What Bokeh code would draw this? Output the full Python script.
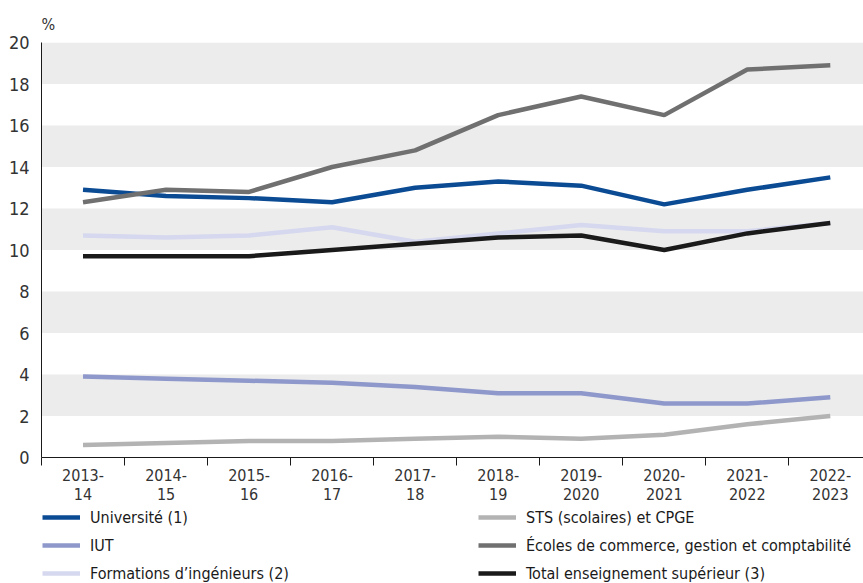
from bokeh.plotting import figure
from bokeh.layouts import column
from bokeh.models import FixedTicker, Legend, LegendItem, ColumnDataSource
from bokeh.embed import file_html
from bokeh.resources import INLINE

years = ["2013-\n14", "2014-\n15", "2015-\n16", "2016-\n17", "2017-\n18",
         "2018-\n19", "2019-\n2020", "2020-\n2021", "2021-\n2022", "2022-\n2023"]

universite = [12.9, 12.6, 12.5, 12.3, 13.0, 13.3, 13.1, 12.2, 12.9, 13.5]
iut = [3.9, 3.8, 3.7, 3.6, 3.4, 3.1, 3.1, 2.6, 2.6, 2.9]
ingenieurs = [10.7, 10.6, 10.7, 11.1, 10.4, 10.8, 11.2, 10.9, 10.9, 11.3]
sts = [0.6, 0.7, 0.8, 0.8, 0.9, 1.0, 0.9, 1.1, 1.6, 2.0]
ecoles = [12.3, 12.9, 12.8, 14.0, 14.8, 16.5, 17.4, 16.5, 18.7, 18.9]
total = [9.7, 9.7, 9.7, 10.0, 10.3, 10.6, 10.7, 10.0, 10.8, 11.3]

y_ticks = [0, 2, 4, 6, 8, 10, 12, 14, 16, 18, 20]

FONT = "DejaVu Sans Condensed"

xs = [i + 0.5 for i in range(len(years))]

p = figure(width=863, height=506, output_backend="svg", toolbar_location=None,
           x_range=(0, 9.9), y_range=(0, 20),
           min_border_left=41, min_border_right=0, min_border_top=42,
           min_border_bottom=49)
p.outline_line_color = None
p.background_fill_color = "white"

series = [
    ("Université (1)", universite, "#0b4b94"),
    ("IUT", iut, "#8e98cb"),
    ("Formations d\u2019ingénieurs (2)", ingenieurs, "#d5d8ee"),
    ("STS (scolaires) et CPGE", sts, "#b3b3b3"),
    ("Écoles de commerce, gestion et comptabilité", ecoles, "#707070"),
    ("Total enseignement supérieur (3)", total, "#1a1a1a"),
]

order = [3, 1, 2, 0, 4, 5]
for idx in order:
    name, vals, col = series[idx]
    src = ColumnDataSource(dict(x=xs, y=vals))
    p.line("x", "y", source=src, line_color=col, line_width=4.5)

# axes
p.xaxis.ticker = FixedTicker(ticks=xs, minor_ticks=list(range(len(years))))
p.xaxis.major_label_overrides = {x: lab for x, lab in zip(xs, years)}
p.xaxis.major_tick_out = 0
p.xaxis.major_tick_in = 0
p.xaxis.minor_tick_out = 8
p.xaxis.minor_tick_in = 0
p.xaxis.minor_tick_line_color = "#1a1a1a"
p.xaxis.axis_line_color = "#1a1a1a"
p.xaxis.major_label_text_font = FONT
p.xaxis.major_label_text_font_size = "16px"
p.xaxis.major_label_text_line_height = 1.0
p.xaxis.major_label_text_color = "#333333"
p.xaxis.major_label_standoff = 0

p.yaxis.ticker = FixedTicker(ticks=y_ticks)
p.yaxis.major_tick_out = 0
p.yaxis.major_tick_in = 0
p.yaxis.minor_tick_line_color = None
p.yaxis.axis_line_color = "#1a1a1a"
p.yaxis.major_label_text_font = FONT
p.yaxis.major_label_text_font_size = "18px"
p.yaxis.major_label_text_color = "#333333"
p.yaxis.major_label_standoff = 12

p.xgrid.grid_line_color = None
p.ygrid.grid_line_color = None
p.ygrid.band_fill_color = "#ececec"
p.ygrid.band_fill_alpha = 1.0

p.title.text = "%"
p.title.text_font = FONT
p.title.text_font_size = "16px"
p.title.text_font_style = "normal"
p.title.text_color = "#333333"
p.title.align = "left"
p.title.standoff = 18

# legend figure (its lines lie outside its visible range; only the legend shows)
pl = figure(width=863, height=77, output_backend="svg", toolbar_location=None,
            x_range=(100, 101), y_range=(100, 101),
            min_border_left=41, min_border_right=0, min_border_top=0,
            min_border_bottom=0)
pl.axis.visible = False
pl.grid.visible = False
pl.outline_line_color = None

leg_r = {}
for idx, (name, vals, col) in enumerate(series):
    src = ColumnDataSource(dict(x=xs, y=vals))
    leg_r[idx] = pl.line("x", "y", source=src, line_color=col, line_width=4.5)

def make_legend(idxs, loc):
    items = [LegendItem(label=series[i][0], renderers=[leg_r[i]]) for i in idxs]
    lg = Legend(items=items, location=loc, orientation="vertical")
    lg.label_text_font = FONT
    lg.label_text_font_size = "16px"
    lg.label_text_color = "#1a1a1a"
    lg.glyph_width = 38
    lg.glyph_height = 20
    lg.label_height = 20
    lg.label_standoff = 10
    lg.spacing = 8
    lg.padding = 0
    lg.margin = 0
    lg.border_line_color = None
    lg.background_fill_alpha = 0
    return lg

pl.add_layout(make_legend([0, 1, 2], (1, 0)), "center")
pl.add_layout(make_legend([3, 4, 5], (437, 0)), "center")

layout = column(p, pl, spacing=0)
open("out.html", "w").write(file_html(layout, INLINE))
